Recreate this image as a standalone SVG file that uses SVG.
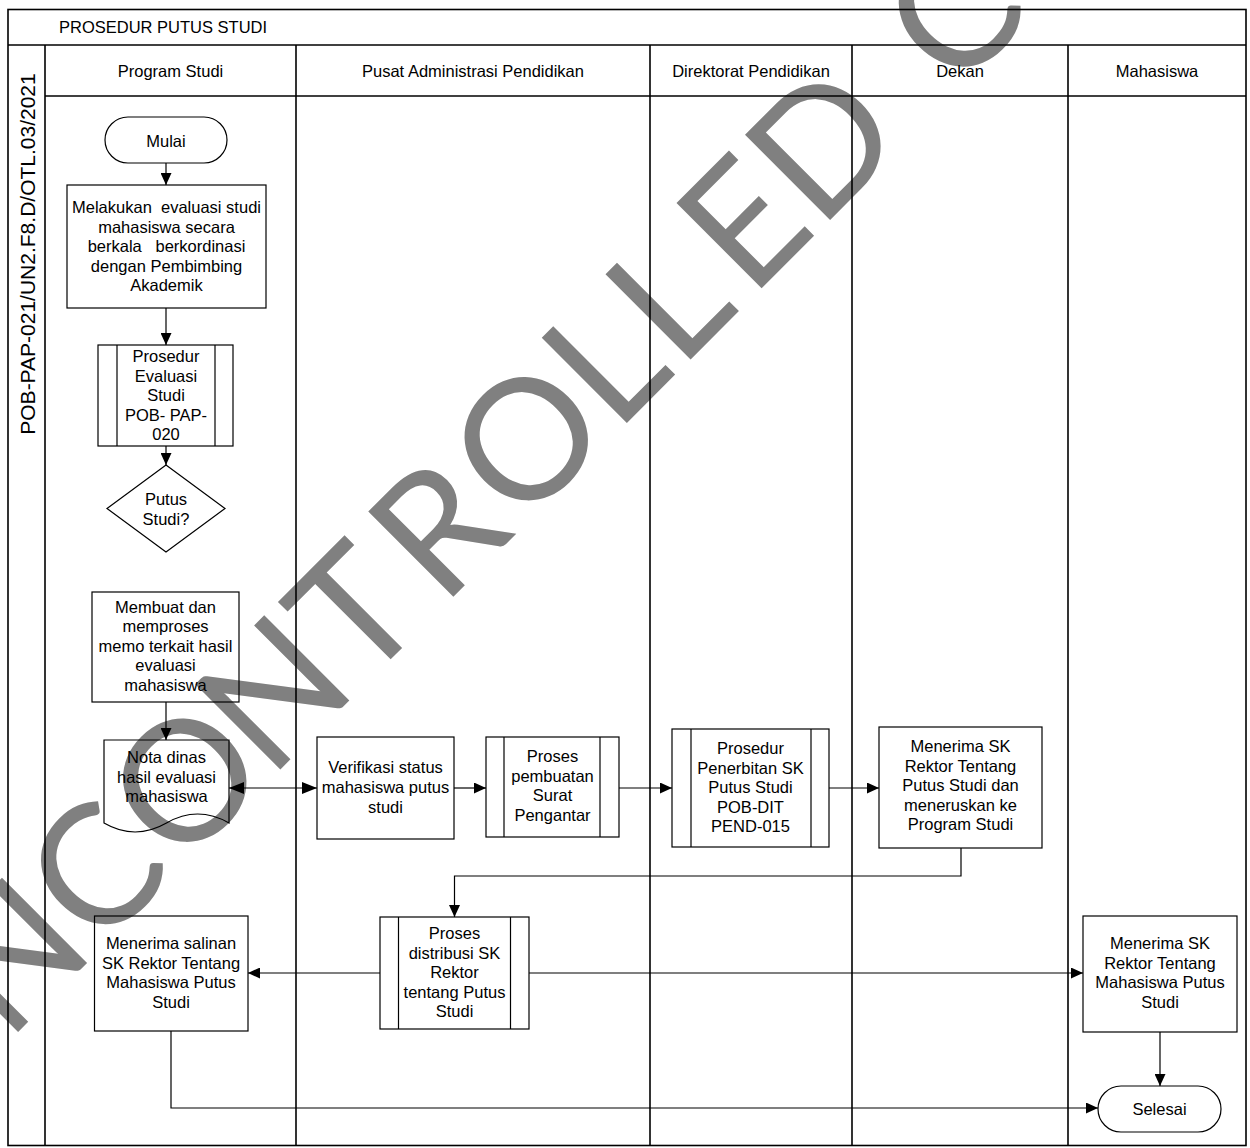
<svg xmlns="http://www.w3.org/2000/svg" width="1250" height="1148" viewBox="0 0 1250 1148">
<defs>
<style>
.t{font-family:"Liberation Sans",Arial,sans-serif;font-size:16.5px;fill:#000;text-anchor:middle}
.hd{font-family:"Liberation Sans",Arial,sans-serif;font-size:16.5px;fill:#000;text-anchor:middle}
.box{fill:none;stroke:#000;stroke-width:1.2}
.lane{fill:none;stroke:#000;stroke-width:1.6}
.con{fill:none;stroke:#000;stroke-width:1.2}
.wm{font-family:Lato,"DejaVu Sans",sans-serif;font-size:168px;fill:#808080;text-anchor:middle}
.pre{white-space:pre}
</style>
<marker id="ah" markerUnits="userSpaceOnUse" markerWidth="12" markerHeight="11" refX="12" refY="5.5" orient="auto">
<path d="M0,0 L12,5.5 L0,11 z" fill="#000"/>
</marker>
<marker id="ahb" markerUnits="userSpaceOnUse" markerWidth="15" markerHeight="12" refX="15" refY="6" orient="auto-start-reverse">
<path d="M0,0 L15,6 L0,12 z" fill="#000"/>
</marker>
</defs>
<rect width="1250" height="1148" fill="#fff"/>

<g id="watermark">
<text class="wm" transform="translate(482.5,482.5) rotate(-45)"><tspan x="-800" y="60">U</tspan><tspan x="-668" y="60">N</tspan><tspan x="-548" y="60">C</tspan><tspan x="-421" y="60">O</tspan><tspan x="-297" y="60">N</tspan><tspan x="-182" y="60">T</tspan><tspan x="-64" y="60">R</tspan><tspan x="62" y="60">O</tspan><tspan x="172" y="60">L</tspan><tspan x="262" y="60">L</tspan><tspan x="368" y="60">E</tspan><tspan x="480" y="60">D</tspan><tspan x="665" y="60">C</tspan><tspan x="800" y="60">O</tspan><tspan x="925" y="60">P</tspan><tspan x="1030" y="60">Y</tspan></text>
</g>

<g id="frame">
<rect class="lane" x="8" y="9.5" width="1238" height="1136"/>
<line class="lane" x1="8" y1="45" x2="1246" y2="45"/>
<line class="lane" x1="45" y1="96" x2="1246" y2="96"/>
<line class="lane" x1="45" y1="45" x2="45" y2="1146"/>
<line class="lane" x1="296" y1="45" x2="296" y2="1146"/>
<line class="lane" x1="650" y1="45" x2="650" y2="1146"/>
<line class="lane" x1="852" y1="45" x2="852" y2="1146"/>
<line class="lane" x1="1068" y1="45" x2="1068" y2="1146"/>
<text x="59" y="33.4" style="font-family:'Liberation Sans',Arial,sans-serif;font-size:16.5px">PROSEDUR PUTUS STUDI</text>
<text transform="translate(35,254) rotate(-90)" style="font-family:'Liberation Sans',Arial,sans-serif;font-size:21px;text-anchor:middle">POB-PAP-021/UN2.F8.D/OTL.03/2021</text>
<text class="hd" x="170.5" y="77">Program Studi</text>
<text class="hd" x="473" y="77">Pusat Administrasi Pendidikan</text>
<text class="hd" x="751" y="77">Direktorat Pendidikan</text>
<text class="hd" x="960" y="77">Dekan</text>
<text class="hd" x="1157" y="77">Mahasiswa</text>
</g>

<g id="connectors">
<path class="con" d="M166,163 V185" marker-end="url(#ah)"/>
<path class="con" d="M166,308 V345" marker-end="url(#ah)"/>
<path class="con" d="M166,446 V465" marker-end="url(#ah)"/>
<path class="con" d="M166,702 V740" marker-end="url(#ah)"/>
<path class="con" d="M229,788 H317" marker-start="url(#ahb)" marker-end="url(#ahb)"/>
<path class="con" d="M454,788 H486" marker-end="url(#ah)"/>
<path class="con" d="M619,788 H672" marker-end="url(#ah)"/>
<path class="con" d="M829,788 H879" marker-end="url(#ah)"/>
<path class="con" d="M961,848 V876 H454.5 V917" marker-end="url(#ah)"/>
<path class="con" d="M380,973 H248" marker-end="url(#ah)"/>
<path class="con" d="M529,973 H1083" marker-end="url(#ah)"/>
<path class="con" d="M1160,1032 V1086" marker-end="url(#ah)"/>
<path class="con" d="M171,1031 V1108 H1098" marker-end="url(#ah)"/>
</g>

<g id="mulai">
<rect class="box" x="105" y="117" width="122" height="46" rx="23"/>
<text class="t" x="166" y="146.7">Mulai</text>
</g>

<g id="evaluasi">
<rect class="box" x="67" y="185" width="199" height="123"/>
<text class="t"><tspan class="pre" x="166.5" y="213.3">Melakukan  evaluasi studi</tspan><tspan x="166.5" y="232.8">mahasiswa secara</tspan><tspan class="pre" x="166.5" y="252.3">berkala   berkordinasi</tspan><tspan x="166.5" y="271.8">dengan Pembimbing</tspan><tspan x="166.5" y="291.3">Akademik</tspan></text>
</g>

<g id="prosedur-evaluasi">
<rect class="box" x="98" y="345" width="135" height="101"/>
<line class="box" x1="117" y1="345" x2="117" y2="446"/>
<line class="box" x1="215" y1="345" x2="215" y2="446"/>
<text class="t"><tspan x="166" y="362">Prosedur</tspan><tspan x="166" y="381.5">Evaluasi</tspan><tspan x="166" y="401">Studi</tspan><tspan x="166" y="420.5">POB- PAP-</tspan><tspan x="166" y="440">020</tspan></text>
</g>

<g id="putus-studi">
<polygon class="box" points="166,465 225,508.5 166,552 107,508.5"/>
<text class="t"><tspan x="166" y="505">Putus</tspan><tspan x="166" y="524.5">Studi?</tspan></text>
</g>

<g id="membuat-memo">
<rect class="box" x="92" y="592" width="147" height="110"/>
<text class="t"><tspan x="165.5" y="612.7">Membuat dan</tspan><tspan x="165.5" y="632.2">memproses</tspan><tspan x="165.5" y="651.7">memo terkait hasil</tspan><tspan x="165.5" y="671.2">evaluasi</tspan><tspan x="165.5" y="690.7">mahasiswa</tspan></text>
</g>

<g id="nota-dinas">
<path class="box" d="M104,740 H229 V823 Q197.5,805 166.5,823 Q135,841 104,823 Z"/>
<text class="t"><tspan x="166.5" y="763.3">Nota dinas</tspan><tspan x="166.5" y="782.8">hasil evaluasi</tspan><tspan x="166.5" y="802.3">mahasiswa</tspan></text>
</g>

<g id="verifikasi">
<rect class="box" x="317" y="737" width="137" height="102"/>
<text class="t"><tspan x="385.5" y="773.3">Verifikasi status</tspan><tspan x="385.5" y="793">mahasiswa putus</tspan><tspan x="385.5" y="812.7">studi</tspan></text>
</g>

<g id="surat-pengantar">
<rect class="box" x="486" y="737" width="133" height="100"/>
<line class="box" x1="504" y1="737" x2="504" y2="837"/>
<line class="box" x1="600" y1="737" x2="600" y2="837"/>
<text class="t"><tspan x="552.5" y="762.3">Proses</tspan><tspan x="552.5" y="781.8">pembuatan</tspan><tspan x="552.5" y="801.3">Surat</tspan><tspan x="552.5" y="820.8">Pengantar</tspan></text>
</g>

<g id="penerbitan-sk">
<rect class="box" x="672" y="729" width="157" height="118"/>
<line class="box" x1="691" y1="729" x2="691" y2="847"/>
<line class="box" x1="811" y1="729" x2="811" y2="847"/>
<text class="t"><tspan x="750.5" y="754">Prosedur</tspan><tspan x="750.5" y="773.5">Penerbitan SK</tspan><tspan x="750.5" y="793">Putus Studi</tspan><tspan x="750.5" y="812.5">POB-DIT</tspan><tspan x="750.5" y="832">PEND-015</tspan></text>
</g>

<g id="dekan-terima">
<rect class="box" x="879" y="727" width="163" height="121"/>
<text class="t"><tspan x="960.5" y="752.3">Menerima SK</tspan><tspan x="960.5" y="771.8">Rektor Tentang</tspan><tspan x="960.5" y="791.3">Putus Studi dan</tspan><tspan x="960.5" y="810.8">meneruskan ke</tspan><tspan x="960.5" y="830.3">Program Studi</tspan></text>
</g>

<g id="distribusi-sk">
<rect class="box" x="380" y="917" width="149" height="112"/>
<line class="box" x1="398.5" y1="917" x2="398.5" y2="1029"/>
<line class="box" x1="510.5" y1="917" x2="510.5" y2="1029"/>
<text class="t"><tspan x="454.5" y="939">Proses</tspan><tspan x="454.5" y="958.5">distribusi SK</tspan><tspan x="454.5" y="978">Rektor</tspan><tspan x="454.5" y="997.5">tentang Putus</tspan><tspan x="454.5" y="1017">Studi</tspan></text>
</g>

<g id="prodi-terima">
<rect class="box" x="94.5" y="916" width="153.5" height="115"/>
<text class="t"><tspan x="171" y="949.3">Menerima salinan</tspan><tspan x="171" y="968.8">SK Rektor Tentang</tspan><tspan x="171" y="988.3">Mahasiswa Putus</tspan><tspan x="171" y="1007.8">Studi</tspan></text>
</g>

<g id="mahasiswa-terima">
<rect class="box" x="1083" y="916" width="154" height="116"/>
<text class="t"><tspan x="1160" y="949.3">Menerima SK</tspan><tspan x="1160" y="968.8">Rektor Tentang</tspan><tspan x="1160" y="988.3">Mahasiswa Putus</tspan><tspan x="1160" y="1007.8">Studi</tspan></text>
</g>

<g id="selesai">
<rect class="box" x="1098" y="1086" width="123" height="46" rx="23"/>
<text class="t" x="1159.5" y="1115">Selesai</text>
</g>
</svg>
